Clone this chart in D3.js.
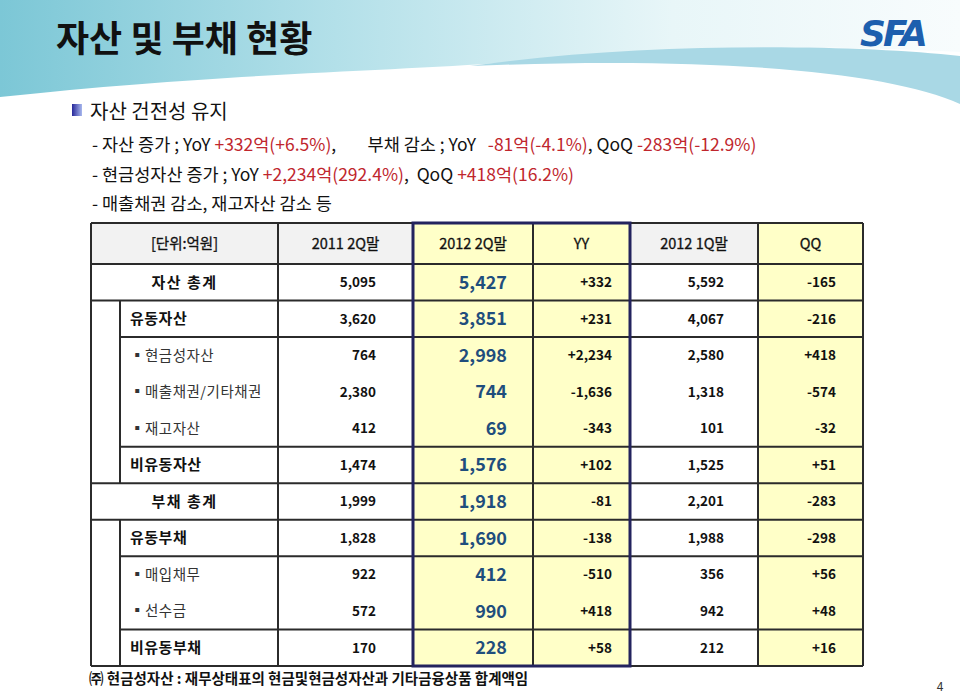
<!DOCTYPE html>
<html>
<head>
<meta charset="utf-8">
<script src="https://cdn.jsdelivr.net/npm/d3@7"></script>
<style>
  body { margin: 0; background: #fff; }
  svg { display: block; font-family: "Noto Sans CJK KR", "Noto Sans", sans-serif; }
  .pre { white-space: pre; }
</style>
</head>
<body>
<div id="slide"></div>
<script>
// table data (unit: 억원)
const rowLabels = ["자산 총계", "유동자산", "현금성자산", "매출채권/기타채권", "재고자산", "비유동자산",
                   "부채 총계", "유동부채", "매입채무", "선수금", "비유동부채"];
const rowLevel = [0, 1, 2, 2, 2, 1, 0, 1, 2, 2, 1];
const colLabels = ["[단위:억원]", "2011 2Q말", "2012 2Q말", "YY", "2012 1Q말", "QQ"];
const q2_2011 = [5095, 3620, 764, 2380, 412, 1474, 1999, 1828, 922, 572, 170];
const q2_2012 = [5427, 3851, 2998, 744, 69, 1576, 1918, 1690, 412, 990, 228];
const yy      = [332, 231, 2234, -1636, -343, 102, -81, -138, -510, 418, 58];
const q1_2012 = [5592, 4067, 2580, 1318, 101, 1525, 2201, 1988, 356, 942, 212];
const qq      = [-165, -216, 418, -574, -32, 51, -283, -298, 56, 48, 16];

// text above the table
const heading = "자산 및 부채 현황";
const bulletTitle = "자산 건전성 유지";
const lines = [
  [["- 자산 증가 ; YoY ", 0], ["+332억(+6.5%)", 1], [",        부채 감소 ; YoY   ", 0], ["-81억(-4.1%)", 1], [", QoQ ", 0], ["-283억(-12.9%)", 1]],
  [["- 현금성자산 증가 ; YoY ", 0], ["+2,234억(292.4%)", 1], [",  QoQ ", 0], ["+418억(16.2%)", 1]],
  [["- 매출채권 감소, 재고자산 감소 등", 0]]
];
const footnote = "㈜ 현금성자산 : 재무상태표의 현금및현금성자산과 기타금융상품 합계액임";

const W = 960, H = 693;
const svg = d3.select("#slide").append("svg").attr("width", W).attr("height", H);
const defs = svg.append("defs");

// header band
const g1 = defs.append("linearGradient").attr("id", "band").attr("x1", 0).attr("x2", 1).attr("y1", 0).attr("y2", 0);
g1.append("stop").attr("offset", "0%").attr("stop-color", "#7cc7d6");
g1.append("stop").attr("offset", "35%").attr("stop-color", "#b3e0e9");
g1.append("stop").attr("offset", "70%").attr("stop-color", "#e8f6f8");
g1.append("stop").attr("offset", "100%").attr("stop-color", "#f8fcfd");
svg.append("path")
  .attr("d", "M0,0 H960 V52 C850,46 700,44 560,58 C420,72 250,70 0,97 Z")
  .attr("fill", "url(#band)");
svg.append("path")
  .attr("d", "M470,66 C640,42 850,44 960,56 L960,104 C890,72 720,56 470,66 Z")
  .attr("fill", "#a9d8e5");

svg.append("text").attr("x", 56).attr("y", 52)
  .attr("font-size", 36).attr("font-weight", 700).attr("fill", "#111")
  .text(heading);

// logo
svg.append("text").attr("x", 860).attr("y", 46)
  .attr("font-family", "'DejaVu Sans', sans-serif")
  .attr("font-size", 36).attr("font-weight", 700).attr("font-style", "italic")
  .attr("letter-spacing", -3).attr("fill", "#1d5fae")
  .text("SFA");

// bullet
const g2 = defs.append("linearGradient").attr("id", "bul").attr("x1", 0).attr("x2", 1).attr("y1", 0).attr("y2", 0);
g2.append("stop").attr("offset", "0%").attr("stop-color", "#28289a");
g2.append("stop").attr("offset", "100%").attr("stop-color", "#a8b8ee");
svg.append("rect").attr("x", 72).attr("y", 104).attr("width", 10).attr("height", 12).attr("fill", "url(#bul)");
svg.append("text").attr("x", 90).attr("y", 119)
  .attr("font-size", 20).attr("fill", "#111")
  .text(bulletTitle);

const lineY = [151, 181, 210];
lines.forEach((segs, i) => {
  const t = svg.append("text").attr("class", "pre").attr("x", 92).attr("y", lineY[i]).attr("font-size", 17.5);
  segs.forEach(s => t.append("tspan").attr("fill", s[1] ? "#c0262d" : "#111").text(s[0]));
});

// table layout
const colEdges = [91, 278, 413, 533, 630, 758, 863];
const indentX = 120;
const headTop = 223, headBottom = 264, tableBottom = 666;
const y = d3.scaleBand().domain(d3.range(rowLabels.length)).range([headBottom, tableBottom]);
const yellowCols = [2, 3, 5];
const fmt = d3.formatLocale({decimal: ".", thousands: ",", grouping: [3], currency: ["", ""], minus: "-"});
const fNum = fmt.format(","), fSign = fmt.format("+,");
const columns = [q2_2011, q2_2012, yy, q1_2012, qq];
const colFormat = [fNum, fNum, fSign, fNum, fSign];
const valueRight = [376, 507, 612, 724, 836];

// cell fills
const tbl = svg.append("g");
colLabels.forEach((c, j) => {
  tbl.append("rect").attr("x", colEdges[j]).attr("y", headTop)
    .attr("width", colEdges[j + 1] - colEdges[j]).attr("height", headBottom - headTop)
    .attr("fill", yellowCols.includes(j) ? "#ffffc8" : "#f2f2f2");
  tbl.append("rect").attr("x", colEdges[j]).attr("y", headBottom)
    .attr("width", colEdges[j + 1] - colEdges[j]).attr("height", tableBottom - headBottom)
    .attr("fill", yellowCols.includes(j) ? "#ffffc8" : "#ffffff");
});

// header text
tbl.selectAll("text.head").data(colLabels).join("text")
  .attr("class", "head")
  .attr("x", (d, j) => (colEdges[j] + colEdges[j + 1]) / 2)
  .attr("y", (headTop + headBottom) / 2)
  .attr("dy", "0.36em").attr("text-anchor", "middle")
  .attr("font-size", 14.5).attr("font-weight", 400).attr("fill", "#111")
  .attr("stroke", "#111").attr("stroke-width", 0.3)
  .text(d => d);

// row labels
tbl.selectAll("text.lab").data(rowLabels).join("text")
  .attr("class", "lab")
  .attr("x", (d, i) => rowLevel[i] === 0 ? (colEdges[0] + colEdges[1]) / 2 : 130)
  .attr("y", (d, i) => y(i) + y.bandwidth() / 2)
  .attr("dy", "0.36em")
  .attr("text-anchor", (d, i) => rowLevel[i] === 0 ? "middle" : "start")
  .attr("font-size", (d, i) => rowLevel[i] === 2 ? 14.5 : 15)
  .attr("font-weight", (d, i) => rowLevel[i] === 2 ? 400 : 700)
  .attr("fill", (d, i) => rowLevel[i] === 2 ? "#333" : "#111")
  .attr("letter-spacing", (d, i) => rowLevel[i] === 0 ? 1.5 : 0.5)
  .text((d, i) => rowLevel[i] === 2 ? "▪" + d : d);

// values
columns.forEach((vals, k) => {
  tbl.selectAll("text.v" + k).data(vals).join("text")
    .attr("class", "v" + k)
    .attr("x", valueRight[k])
    .attr("y", (d, i) => y(i) + y.bandwidth() / 2)
    .attr("dy", "0.36em").attr("text-anchor", "end")
    .attr("font-size", k === 1 ? 18 : 13.5)
    .attr("font-weight", 700)
    .attr("fill", k === 1 ? "#1f4e7d" : "#111")
    .text(d => colFormat[k](d));
});

// grid lines
const line = (x1, y1, x2, y2, w) => tbl.append("line")
  .attr("x1", x1).attr("y1", y1).attr("x2", x2).attr("y2", y2)
  .attr("stroke", "#2b2b2b").attr("stroke-width", w || 2);
line(colEdges[0], headTop, colEdges[6], headTop);
line(colEdges[0], headBottom, colEdges[6], headBottom);
// lines under rows: full width after totals / non-current, indented after group ends
const lineAfter = {0: "full", 1: "indent", 4: "indent", 5: "full", 6: "full", 7: "indent", 9: "indent", 10: "full"};
Object.keys(lineAfter).forEach(k => {
  const yy0 = y(+k) + y.bandwidth();
  line(lineAfter[k] === "full" ? colEdges[0] : indentX, yy0, colEdges[6], yy0);
});
colEdges.forEach(x => line(x, headTop, x, tableBottom));
line(indentX, y(1), indentX, y(5) + y.bandwidth());
line(indentX, y(7), indentX, y(10) + y.bandwidth());

// highlight box around 2012 2Q and YY
tbl.append("rect").attr("x", colEdges[2]).attr("y", headTop)
  .attr("width", colEdges[4] - colEdges[2]).attr("height", tableBottom - headTop)
  .attr("fill", "none").attr("stroke", "#23235e").attr("stroke-width", 3);

// footnote and page number
svg.append("text").attr("x", 89).attr("y", 684)
  .attr("font-size", 14.5).attr("font-weight", 700).attr("fill", "#111")
  .text(footnote);
svg.append("text").attr("x", 940).attr("y", 691).attr("text-anchor", "middle")
  .attr("font-size", 12).attr("fill", "#333").text("4");
</script>
</body>
</html>
